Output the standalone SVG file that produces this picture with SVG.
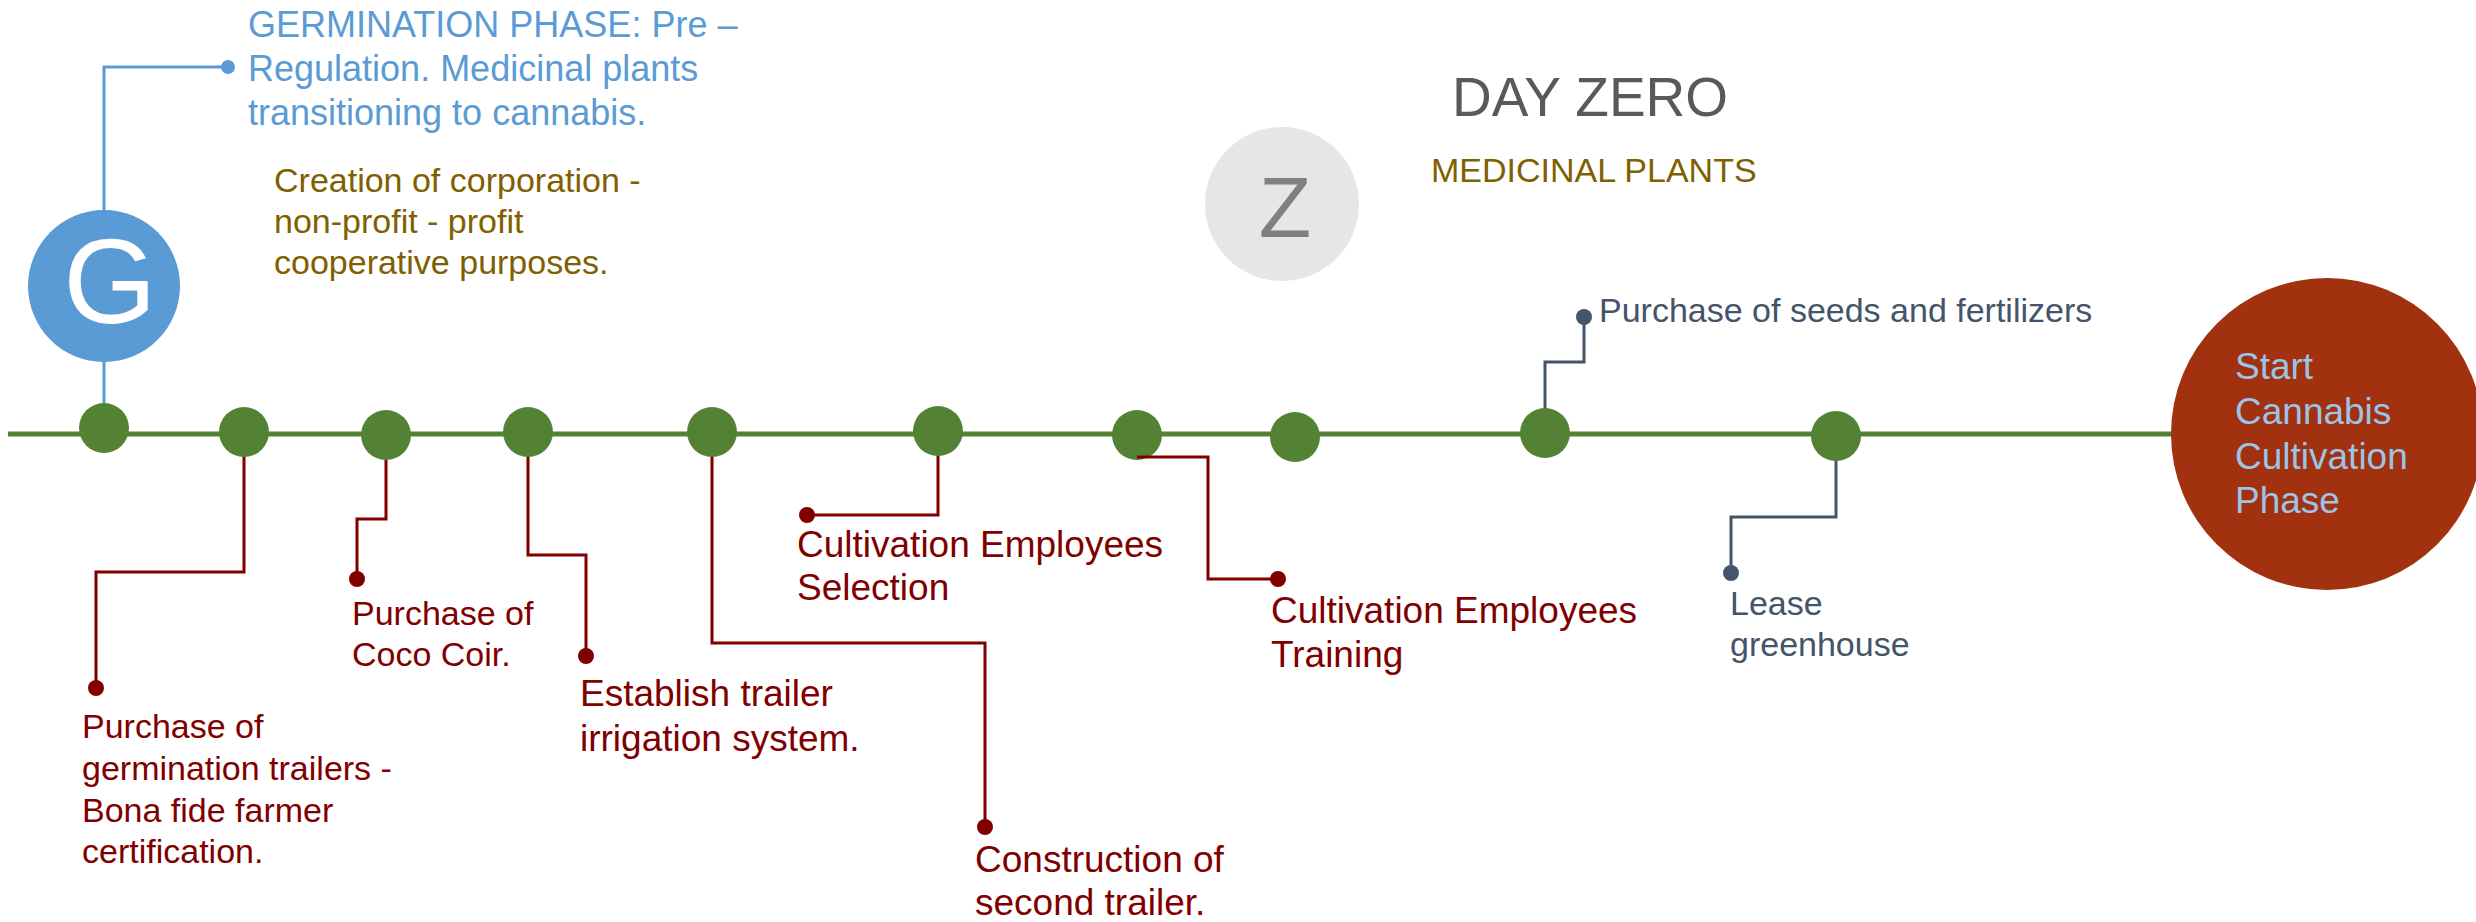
<svg xmlns="http://www.w3.org/2000/svg" width="2476" height="922" viewBox="0 0 2476 922">
<style>
text{font-family:"Liberation Sans",Arial,sans-serif}
.dot{fill:#548235}
.red{fill:#800000}
.redl{fill:none;stroke:#800000;stroke-width:3}
.sl{fill:none;stroke:#44546a;stroke-width:3}
.slate{fill:#44546a}
.bl{fill:none;stroke:#5b9bd5;stroke-width:3}
.l34{font-size:34px}
.l37{font-size:37px}
</style>
<rect width="2476" height="922" fill="#ffffff"/>
<g id="timeline">
<line x1="8" y1="434" x2="2200" y2="434" stroke="#548235" stroke-width="5"/>
</g>
<g id="connectors">
<polyline class="bl" points="104,405 104,67 228,67"/>
<circle cx="228" cy="67" r="7" fill="#5b9bd5"/>
<polyline class="redl" points="244,455 244,572 96,572 96,688"/>
<circle class="red" cx="96" cy="688" r="8"/>
<polyline class="redl" points="386,458 386,519 357,519 357,579"/>
<circle class="red" cx="357" cy="579" r="8"/>
<polyline class="redl" points="528,455 528,555 586,555 586,656"/>
<circle class="red" cx="586" cy="656" r="8"/>
<polyline class="redl" points="712,455 712,643 985,643 985,827"/>
<circle class="red" cx="985" cy="827" r="8"/>
<polyline class="redl" points="938,455 938,515 807,515"/>
<circle class="red" cx="807" cy="515" r="8"/>
<polyline class="sl" points="1545,410 1545,362 1584,362 1584,317"/>
<circle class="slate" cx="1584" cy="317" r="8"/>
<polyline class="sl" points="1836,460 1836,517 1731,517 1731,573"/>
<circle class="slate" cx="1731" cy="573" r="8"/>
</g>
<g id="dots">
<circle class="dot" cx="104" cy="428" r="25"/>
<circle class="dot" cx="244" cy="432" r="25"/>
<circle class="dot" cx="386" cy="435" r="25"/>
<circle class="dot" cx="528" cy="432" r="25"/>
<circle class="dot" cx="712" cy="432" r="25"/>
<circle class="dot" cx="938" cy="431" r="25"/>
<circle class="dot" cx="1137" cy="435" r="25"/>
<circle class="dot" cx="1295" cy="437" r="25"/>
<circle class="dot" cx="1545" cy="433" r="25"/>
<circle class="dot" cx="1836" cy="436" r="25"/>
</g>
<g id="training-connector">
<polyline class="redl" points="1137,457 1208,457 1208,579 1278,579"/>
<circle class="red" cx="1278" cy="579" r="8"/>
</g>
<g id="node-g">
<circle cx="104" cy="286" r="76" fill="#5b9bd5"/>
<text x="110" y="323" font-size="120" fill="#ffffff" text-anchor="middle">G</text>
</g>
<g id="germination-text" fill="#5b9bd5" font-size="36">
<text x="248" y="37">GERMINATION PHASE: Pre –</text>
<text x="248" y="81">Regulation. Medicinal plants</text>
<text x="248" y="125">transitioning to cannabis.</text>
</g>
<g id="creation-text" fill="#7f6000" class="l34">
<text x="274" y="192">Creation of corporation -</text>
<text x="274" y="233">non-profit - profit</text>
<text x="274" y="274">cooperative purposes.</text>
</g>
<g id="node-z">
<circle cx="1282" cy="204" r="77" fill="#e6e6e6"/>
<text x="1285" y="237" font-size="86" fill="#808080" text-anchor="middle">Z</text>
</g>
<g id="day-zero">
<text x="1452" y="116" font-size="55" fill="#595959">DAY ZERO</text>
<text x="1431" y="182" class="l34" fill="#7f6000">MEDICINAL PLANTS</text>
</g>
<g id="label-trailers" class="red l34">
<text x="82" y="738">Purchase of</text>
<text x="82" y="780">germination trailers -</text>
<text x="82" y="822">Bona fide farmer</text>
<text x="82" y="863">certification.</text>
</g>
<g id="label-coco" class="red l34">
<text x="352" y="625">Purchase of</text>
<text x="352" y="666">Coco Coir.</text>
</g>
<g id="label-irrigation" class="red l37">
<text x="580" y="706">Establish trailer</text>
<text x="580" y="751">irrigation system.</text>
</g>
<g id="label-construction" class="red l37">
<text x="975" y="872">Construction of</text>
<text x="975" y="915">second trailer.</text>
</g>
<g id="label-selection" class="red l37">
<text x="797" y="557">Cultivation Employees</text>
<text x="797" y="600">Selection</text>
</g>
<g id="label-training" class="red l37">
<text x="1271" y="623">Cultivation Employees</text>
<text x="1271" y="667">Training</text>
</g>
<g id="label-seeds" class="slate l34">
<text x="1599" y="322">Purchase of seeds and fertilizers</text>
</g>
<g id="label-lease" class="slate l34">
<text x="1730" y="615">Lease</text>
<text x="1730" y="656">greenhouse</text>
</g>
<g id="node-start">
<circle cx="2327" cy="434" r="156" fill="#a1310f"/>
<g fill="#9dc3e6" font-size="37">
<text x="2235" y="379">Start</text>
<text x="2235" y="424">Cannabis</text>
<text x="2235" y="469">Cultivation</text>
<text x="2235" y="513">Phase</text>
</g>
</g>
</svg>
